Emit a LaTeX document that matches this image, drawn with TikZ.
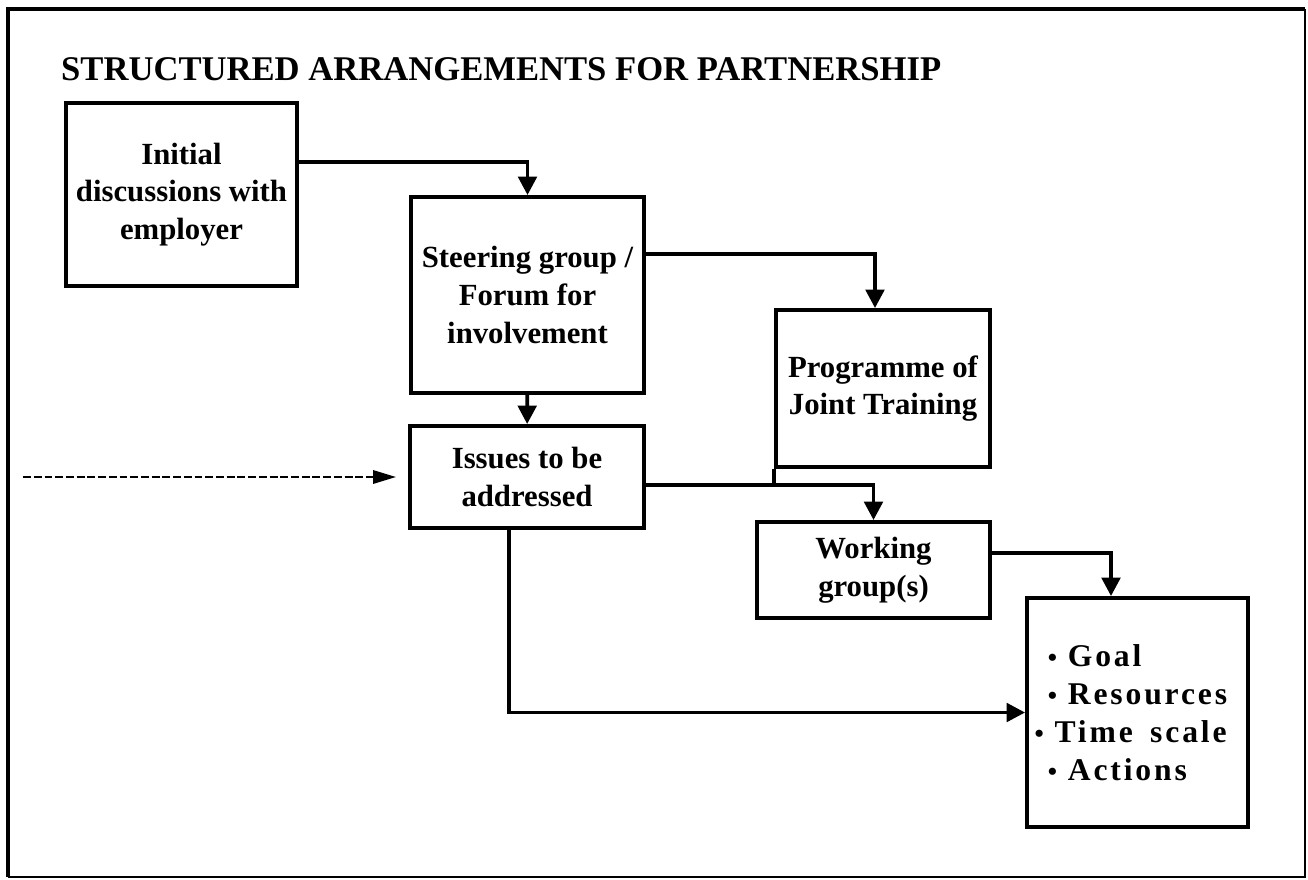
\documentclass[tikz,border=0pt]{standalone}
\usepackage{fontspec}
\setmainfont{Liberation Serif}
\newfontfamily\spacedfont[LetterSpace=9]{Liberation Serif}
\usetikzlibrary{arrows.meta,positioning}

\newcommand{\actdot}{{\fontsize{15}{15}\selectfont\textbullet}}

\begin{document}
\begin{tikzpicture}[
    box/.style={draw, line width=2.2pt, align=center, inner sep=0pt, font=\fontsize{17.5}{21.5}\selectfont\bfseries},
    arr/.style={-{Triangle[length=10.5pt,width=10.5pt]}, line width=2.2pt},
    darr/.style={-{Triangle[length=13pt,width=7.5pt]}, line width=1.4pt, dash pattern=on 4.5pt off 1.6pt},
    ttl/.style={anchor=base west, font=\fontsize{19.7}{23}\selectfont\bfseries}
]
\useasboundingbox (0,0) rectangle (26.16,-17.58);

% outer frame
\draw[line width=2.6pt] (0.16,-17.54) -- (0.16,-0.18) -- (26.1,-0.18);
\draw[line width=0.9pt] (26.1,-0.18) -- (26.1,-17.54) -- (0.16,-17.54);

\node[ttl] (T) at (1.1,-1.62) {STRUCTURED ARRANGEMENTS FOR PARTNERSHIP};

\node[box, minimum width=4.62cm, minimum height=3.66cm] (I) at (3.63,-3.89) {Initial\\discussions with\\employer};
\node[box, minimum width=4.66cm, minimum height=3.92cm] (S) at (10.55,-5.9) {Steering group /\\Forum for\\involvement};
\node[box, minimum width=4.28cm, minimum height=3.14cm] (P) at (17.66,-7.77) {Programme of\\Joint Training};
\node[box, minimum width=4.68cm, minimum height=2.04cm] (Is) at (10.54,-9.54) {Issues to be\\addressed};
\node[box, minimum width=4.66cm, minimum height=1.92cm] (W) at (17.47,-11.4) {Working\\group(s)};
\node[box, minimum width=4.42cm, minimum height=4.58cm, align=left,
      font=\fontsize{18}{21.5}\selectfont\spacedfont\bfseries] (A) at (22.75,-14.25)
     {\actdot\ Goal\\ \actdot\ Resources\\ \hspace*{-0.42em}\actdot\ Time\hspace{0.55em}scale\\ \actdot\ Actions};

\coordinate (j) at ([yshift=-0.16cm]Is.east);
\coordinate (src) at ([xshift=-7.7cm]Is.west);

\draw[arr] ([yshift=0.65cm]I.east) -| (S.north);
\draw[arr] ([yshift=0.82cm]S.east) -| ([xshift=-0.16cm]P.north);
\draw[arr] (S) -- (Is);
\draw[arr] (j) -| (W.north);
\draw[line width=2.2pt] (P.south west) -- (P.south west |- j);
\draw[arr] ([yshift=0.34cm]W.east) -| ([xshift=-0.53cm]A.north);
\draw[arr] ([xshift=-0.36cm]Is.south) |- (A.west);
\draw[darr] (src) -- ([xshift=-0.24cm]Is.west);
\end{tikzpicture}
\end{document}
